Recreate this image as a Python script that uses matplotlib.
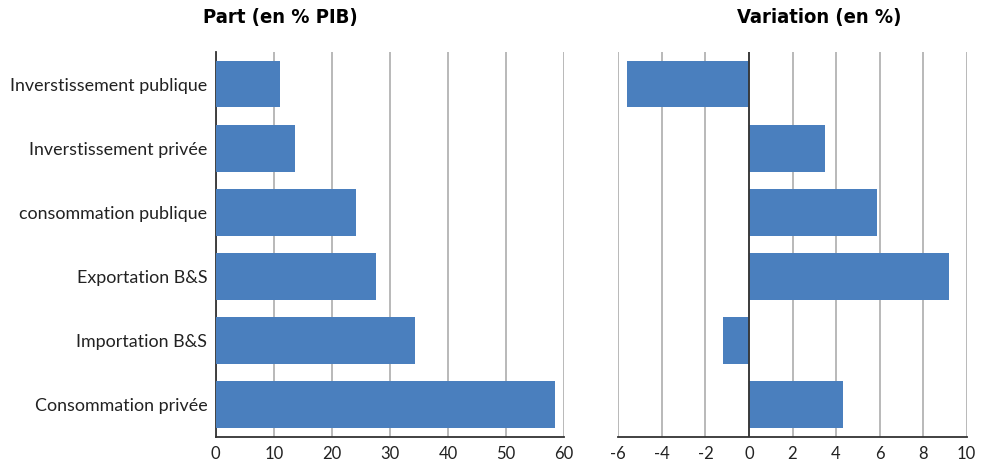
import numpy as np
import matplotlib.pyplot as plt

# composantes du PIB
categories = ['Inverstissement publique', 'Inverstissement privée', 'consommation publique',
              'Exportation B&S', 'Importation B&S', 'Consommation privée']
part = [11.1, 13.6, 24.1, 27.6, 34.3, 58.4]
variation = [-5.6, 3.5, 5.9, 9.2, -1.2, 4.3]

bleu = '#4a7fbe'
plt.rcParams['font.family'] = ['Lato', 'DejaVu Sans']
plt.rcParams['axes.unicode_minus'] = False

fig = plt.figure(figsize=(9.85, 4.66), dpi=100)
W, H = 985, 466
ax1 = fig.add_axes([215.7 / W, 1 - 436.5 / H, (564 - 215.7) / W, (436.5 - 52) / H])
ax2 = fig.add_axes([618.3 / W, 1 - 436.5 / H, (966.7 - 618.3) / W, (436.5 - 52) / H])

y = np.arange(len(categories))[::-1]

ax1.barh(y, part, height=0.73, color=bleu, zorder=3)
ax1.set_xlim(0, 60)
ax1.set_xticks(range(0, 61, 10))
ax1.set_yticks(y)
ax1.set_yticklabels(categories)

ax2.barh(y, variation, height=0.73, color=bleu, zorder=3)
ax2.set_xlim(-6, 10)
ax2.set_xticks(range(-6, 11, 2))
ax2.set_yticks([])
ax2.axvline(0, color='#333333', lw=1.3, zorder=4)

for ax in (ax1, ax2):
    ax.set_ylim(-0.5, len(categories) - 0.5)
    ax.grid(axis='x', color='#b3b3b3', lw=1.3, zorder=0)
    for s in ('top', 'right'):
        ax.spines[s].set_visible(False)
    ax.spines['bottom'].set_color('#333333')
    ax.spines['bottom'].set_linewidth(1.3)
    ax.tick_params(axis='x', length=0, pad=7, labelsize=12, colors='#222222')
    ax.tick_params(axis='y', length=0, pad=6, labelsize=12.9, colors='#222222')

ax1.spines['left'].set_color('#333333')
ax1.spines['left'].set_linewidth(1.3)
ax2.spines['left'].set_visible(False)

for xt, titre in ((280, 'Part (en % PIB)'), (819, 'Variation (en %)')):
    fig.text(xt / W, 1 - 18 / H, titre, ha='center', va='center', fontsize=14.5,
             fontweight='bold', fontstretch='condensed', family='DejaVu Sans')

fig.savefig('out.png', dpi=100)
